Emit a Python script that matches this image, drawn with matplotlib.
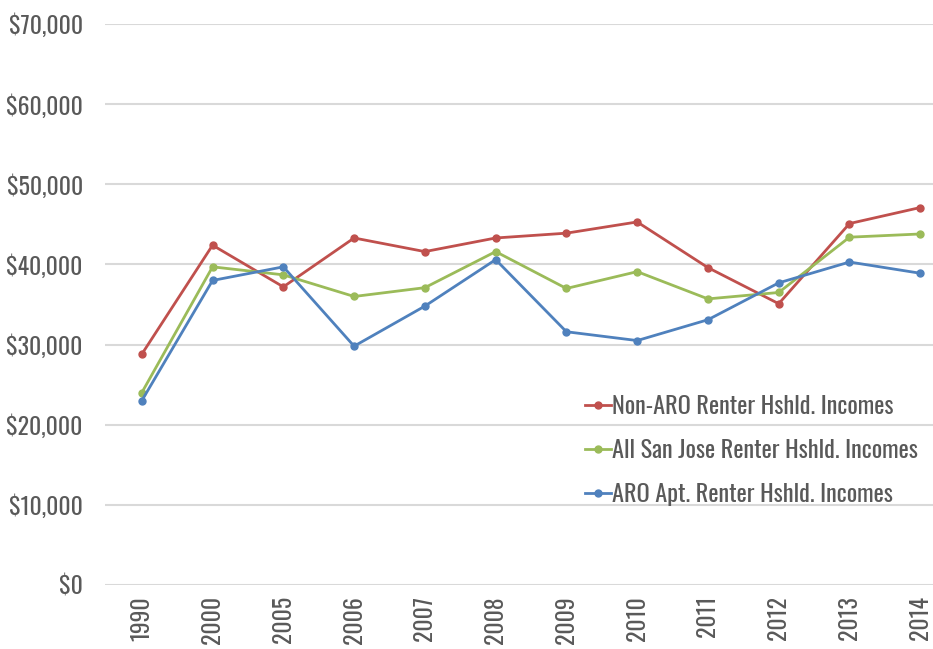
import matplotlib
matplotlib.use("Agg")
from matplotlib import pyplot as plt
from matplotlib.ticker import FuncFormatter

# renter household incomes
years = ['1990', '2000', '2005', '2006', '2007', '2008', '2009', '2010', '2011', '2012', '2013', '2014']
non_aro = [28800, 42400, 37200, 43300, 41600, 43300, 43900, 45300, 39600, 35100, 45100, 47100]
all_sj = [24000, 39700, 38700, 36000, 37100, 41600, 37000, 39100, 35700, 36500, 43400, 43800]
aro_apt = [23000, 38000, 39700, 29800, 34800, 40600, 31600, 30500, 33100, 37700, 40300, 38900]

labels = ['Non-ARO Renter Hshld. Incomes',
          'All San Jose Renter Hshld. Incomes',
          'ARO Apt. Renter Hshld. Incomes']
colors = ['#c0504d', '#9bbb59', '#4f81bd']
text_color = '#595959'

plt.rcParams['font.family'] = ['Oswald', 'Roboto Condensed', 'Liberation Sans Narrow', 'DejaVu Sans']

fig = plt.figure(figsize=(9.33, 6.49), dpi=100)
ax = fig.add_axes([105 / 933, 64 / 649, 828 / 933, 561 / 649])

x = list(range(len(years)))
for series, lab, col in zip([non_aro, all_sj, aro_apt], labels, colors):
    ax.plot(x, series, color=col, lw=2.0, marker='o', ms=5, label=lab)

ax.set_ylim(0, 70000)
ax.set_yticks(range(0, 70001, 10000))
ax.yaxis.set_major_formatter(FuncFormatter(lambda v, p: '${:,.0f}'.format(v)))
ax.set_xlim(-0.52, 11.18)
ax.set_xticks(x)
ax.set_xticklabels(years, rotation=90)

ax.grid(axis='y', color='#d9d9d9', lw=1.5)
ax.set_axisbelow(True)
for s in ax.spines.values():
    s.set_visible(False)
ax.tick_params(length=0, labelsize=17, colors=text_color, pad=8)
ax.tick_params(axis='y', pad=16)

leg = ax.legend(loc='upper left', bbox_to_anchor=(480 / 828, 190 / 561),
                frameon=False, fontsize=17.5, handlelength=1.05, handletextpad=0.05,
                labelspacing=0.86, borderpad=0, borderaxespad=0)
for t in leg.get_texts():
    t.set_color(text_color)

fig.savefig('out.png', dpi=100)
